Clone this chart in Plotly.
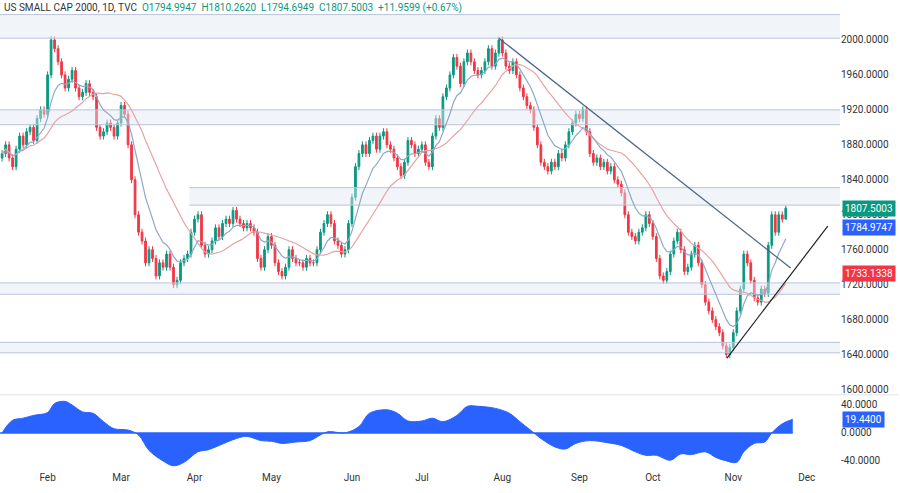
import plotly.graph_objects as go
from plotly.subplots import make_subplots
import pandas as pd
import numpy as np

closes = [1870,1880,1865,1855,1875,1890,1880,1895,1900,1885,1910,1920,1915,
 1960,2000,1990,1975,1960,1945,1955,1965,1945,1935,1940,1950,1940,1935,1900,1890,1895,1905,1900,1890,1905,
 1925,1915,1880,1840,1800,1780,1770,1745,1760,1750,1730,1745,1740,1755,1740,1720,1725,1745,1750,1755,1780,
 1795,1800,1765,1755,1760,1770,1785,1775,1790,1795,1790,1805,1795,1790,1785,1790,1785,1780,1750,1740,1760,1775,
 1765,1745,1735,1730,1740,1760,1750,1745,1745,1740,1750,1745,1745,1760,1780,1790,1800,1790,1770,1765,1755,1760,1790,
 1820,1855,1870,1880,1870,1885,1890,1875,1890,1895,1880,1875,1865,1855,1845,1860,1885,1880,1870,1875,
 1880,1860,1855,1890,1910,1900,1935,1945,1960,1980,1970,1950,1975,1985,1975,1965,1960,1965,1975,1990,1970,1985,2000,
 1985,1970,1965,1975,1960,1945,1935,1925,1920,1900,1880,1860,1855,1850,1860,1855,1870,1865,1880,1895,1905,1915,
 1910,1920,1895,1870,1860,1865,1855,1860,1850,1855,1840,1835,1825,1800,1780,1775,1770,1780,1785,1800,1790,
 1775,1750,1730,1725,1735,1755,1770,1780,1760,1735,1740,1755,1765,1745,1720,1700,1690,1680,1672,1665,1650,1640,1648,
 1665,1690,1715,1755,1745,1725,1705,1700,1715,1710,1765,1800,1780,1800,1794.99,1807.50]
first_open = 1865
month_ticks = [13, 34, 55, 77, 100, 120, 143, 165, 186, 209, 230]
month_labels = ["Feb","Mar","Apr","May","Jun","Jul","Aug","Sep","Oct","Nov","Dec"]
price_ticks = [1600,1640,1680,1720,1760,1800,1840,1880,1920,1960,2000,2040]
zones = [(2002,2029,0),(1903,1920,0),(1811,1831,54),(1709,1722,0),(1642,1654,0)]
down_line_x = [142, 225.4]; down_line_y = [2002, 1739]
up_line_x = [207.2, 236]; up_line_y = [1636, 1787]
osc_x = [0,3,6,9,13,15,18,20,23,26,29,32,36,39,42,46,49,52,56,59,62,67,70,74,77,80,84,88,93,98,102,105,110,113,116,120,123,126,130,133,136,141,145,148,151,154,158,161,164,168,173,177,181,184,187,191,194,197,201,204,207,210,212,215,218,220,223,226]
osc_v = [0,18,21,25,29,42,45,40,30,28,16,6,4,-3,-25,-40,-47,-42,-27,-24,-18,-8,-5,-11,-12,-15,-13,-11,1.5,0,9,28,33,28,17,17,21,16,25,38,38,35,28,16,4,-8,-20,-23,-15,-11,-14,-18,-27,-32,-32,-39,-30,-31,-27,-35,-40,-42,-27,-15,-13,0,13,19.44]

c = np.array(closes, dtype=float)
o = np.concatenate([[first_open], c[:-1]])
h = np.maximum(o, c) + 4
l = np.minimum(o, c) - 4
h[-1] = 1810.26; l[-1] = 1794.69
idx = np.arange(len(c))
s = pd.Series(c)
ema = s.ewm(span=9, adjust=False).mean()
sma = s.rolling(21, min_periods=1).mean()

UP, DN = "#089981", "#f23645"
fig = make_subplots(rows=2, cols=1, shared_xaxes=True, row_heights=[0.84, 0.16], vertical_spacing=0)
for lo, hi, x0 in zones:
    xs = x0 - 0.5 if x0 else -5
    fig.add_trace(go.Scatter(x=[xs, 245, 245, xs], y=[lo, lo, hi, hi], fill="toself",
                             fillcolor="rgba(225,232,245,0.45)", line=dict(color="#b8c4dc", width=1),
                             mode="lines", hoverinfo="skip"), 1, 1)
fig.add_trace(go.Scatter(x=idx, y=sma, mode="lines", line=dict(color="#e8a3a3", width=1.2)), 1, 1)
fig.add_trace(go.Scatter(x=idx, y=ema, mode="lines", line=dict(color="#8fa8c8", width=1.2)), 1, 1)
fig.add_trace(go.Candlestick(x=idx, open=o, high=h, low=l, close=c,
    increasing=dict(line=dict(color=UP, width=1), fillcolor=UP),
    decreasing=dict(line=dict(color=DN, width=1), fillcolor=DN), whiskerwidth=0), 1, 1)
fig.add_trace(go.Scatter(x=down_line_x, y=down_line_y, mode="lines", line=dict(color="#4a6585", width=1.2)), 1, 1)
fig.add_trace(go.Scatter(x=up_line_x, y=up_line_y, mode="lines", line=dict(color="#222", width=1.2)), 1, 1)
fig.add_trace(go.Scatter(x=osc_x, y=osc_v, mode="lines", fill="tozeroy", fillcolor="#2962ff",
                         line=dict(color="#2962ff", width=1), line_shape="spline"), 2, 1)
fig.add_trace(go.Scatter(x=[-5, osc_x[-1]], y=[0, 0], mode="lines", line=dict(color="#2962ff", width=1.5)), 2, 1)

fig.update_layout(width=900, height=493, margin=dict(l=0, r=60, t=0, b=23, autoexpand=False), showlegend=False,
                  plot_bgcolor="white", paper_bgcolor="white", font=dict(family="Roboto", size=10, color="#333"))
fig.update_xaxes(range=[-0.6, 239.5], showgrid=False, rangeslider_visible=False, zeroline=False, automargin=False)
fig.update_xaxes(tickvals=month_ticks, ticktext=month_labels, ticks="", row=2, col=1)
fig.update_yaxes(side="right", showgrid=False, zeroline=False, ticks="", automargin=False)
fig.update_yaxes(range=[1594, 2045.7], tickvals=price_ticks, ticktext=[f"{v:.4f}" for v in price_ticks], row=1, col=1)
fig.update_yaxes(range=[-53, 54.4], tickvals=[-40, 0, 40], ticktext=["-40.0000", "0.0000", "40.0000"], row=2, col=1)
fig.add_shape(type="line", xref="paper", yref="paper", x0=0, x1=1.07, y0=0.16, y1=0.16, line=dict(color="#e0e3eb", width=1))
for val, col in [(1807.5003, UP), (1784.9747, "#2962ff"), (1733.1338, DN)]:
    fig.add_annotation(x=1.0, xref="paper", y=val, yref="y", xanchor="left", xshift=2, text=f"{val:.4f}", showarrow=False,
                       bgcolor=col, font=dict(color="white", size=10), borderpad=2)
fig.add_annotation(x=1.0, xref="paper", y=19.44, yref="y2", xanchor="left", xshift=2, text="19.4400", showarrow=False,
                   bgcolor="#2962ff", font=dict(color="white", size=10), borderpad=2)
fig.add_annotation(x=0.002, xref="paper", y=1.0, yref="paper", xanchor="left", yanchor="top", showarrow=False,
    text="US SMALL CAP 2000, 1D, TVC  <span style='color:#089981'>O1794.9947  H1810.2620  L1794.6949  C1807.5003  +11.9599 (+0.67%)</span>",
    font=dict(size=10, color="#333"))
fig.write_html("out.html", config={"displayModeBar": False}, post_script="document.body.style.margin='0';")
